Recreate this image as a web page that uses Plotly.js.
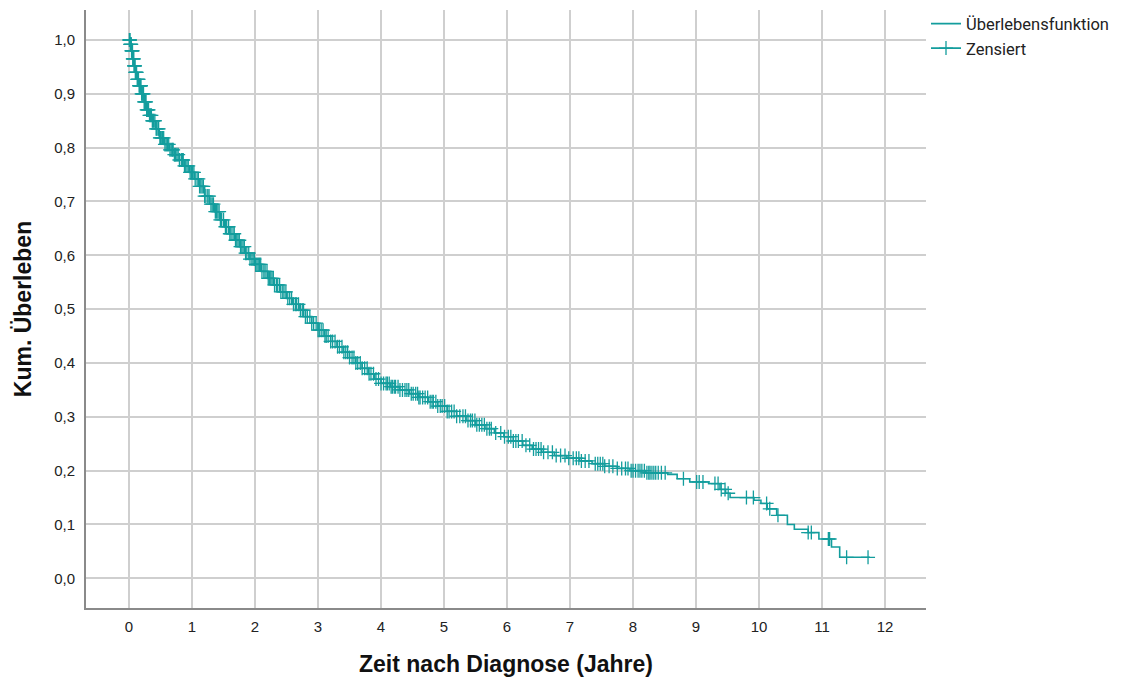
<!DOCTYPE html>
<html><head><meta charset="utf-8">
<script src="https://cdn.plot.ly/plotly-3.0.1.min.js"></script>
<style>html,body{margin:0;padding:0;background:#fff}#chart{width:1137px;height:681px}</style>
</head><body><div id="chart"></div><script>
// Kaplan-Meier step points (time in years, cumulative survival)
const stepTimes = [0,0.02,0.04,0.06,0.08,0.10,0.13,0.16,0.20,0.24,0.28,0.32,0.36,0.42,0.48,0.56,0.64,0.72,0.80,0.88,0.96,1.04,1.12,1.20,1.28,1.36,1.44,1.52,1.60,1.68,1.76,1.84,1.92,2.00,2.10,2.20,2.30,2.40,2.50,2.60,2.70,2.80,2.90,3.00,3.10,3.20,3.30,3.40,3.50,3.60,3.70,3.80,3.90,4.00,4.15,4.30,4.45,4.60,4.75,4.90,5.05,5.20,5.35,5.50,5.65,5.80,5.95,6.10,6.25,6.40,6.55,6.75,6.95,7.15,7.35,7.55,7.75,7.95,8.20,8.55,8.70,8.90,9.20,9.38,9.47,9.54,9.92,10.03,10.13,10.28,10.45,10.56,10.78,10.95,11.15,11.28,11.76];
const stepSurv  = [1.000,0.992,0.980,0.965,0.952,0.940,0.927,0.915,0.900,0.885,0.870,0.860,0.850,0.835,0.818,0.806,0.796,0.787,0.777,0.766,0.754,0.742,0.728,0.710,0.695,0.681,0.666,0.653,0.640,0.628,0.616,0.604,0.593,0.583,0.570,0.557,0.545,0.532,0.520,0.509,0.498,0.486,0.474,0.461,0.450,0.440,0.430,0.420,0.410,0.400,0.390,0.380,0.370,0.362,0.356,0.350,0.343,0.336,0.328,0.320,0.310,0.301,0.293,0.285,0.278,0.270,0.263,0.255,0.247,0.240,0.234,0.228,0.223,0.218,0.213,0.208,0.204,0.200,0.196,0.193,0.185,0.179,0.176,0.165,0.158,0.150,0.145,0.139,0.129,0.117,0.100,0.091,0.085,0.073,0.058,0.039,0.039];
// Censored observations (time in years)
const censorTimes = [0.005,0.01,0.015,0.02,0.025,0.03,0.035,0.04,0.045,0.05,0.055,0.06,0.065,0.07,0.075,0.08,0.085,0.09,0.095,0.10,0.105,0.11,0.115,0.12,0.13,0.14,0.145,0.15,0.16,0.17,0.175,0.18,0.19,0.20,0.21,0.22,0.23,0.24,0.25,0.26,0.27,0.28,0.29,0.30,0.31,0.325,0.34,0.355,0.37,0.38,0.39,0.41,0.43,0.44,0.46,0.47,0.49,0.50,0.52,0.53,0.55,0.57,0.59,0.61,0.63,0.65,0.67,0.69,0.70,0.72,0.74,0.76,0.78,0.80,0.83,0.85,0.86,0.88,0.90,0.92,0.94,0.97,0.99,1.01,1.03,1.05,1.08,1.10,1.12,1.14,1.16,1.18,1.20,1.22,1.25,1.27,1.30,1.32,1.34,1.37,1.39,1.41,1.43,1.45,1.47,1.50,1.53,1.55,1.58,1.60,1.62,1.65,1.67,1.69,1.71,1.73,1.75,1.77,1.79,1.81,1.83,1.85,1.87,1.90,1.92,1.95,1.97,1.99,2.01,2.03,2.05,2.07,2.09,2.11,2.14,2.16,2.19,2.21,2.23,2.25,2.27,2.29,2.31,2.34,2.36,2.39,2.41,2.44,2.46,2.49,2.52,2.55,2.58,2.61,2.64,2.66,2.69,2.72,2.75,2.77,2.80,2.83,2.87,2.90,2.93,2.97,3.00,3.02,3.05,3.08,3.11,3.13,3.16,3.20,3.23,3.27,3.31,3.34,3.38,3.41,3.44,3.47,3.50,3.54,3.57,3.60,3.63,3.67,3.70,3.74,3.78,3.81,3.84,3.88,3.92,3.96,4.00,4.04,4.08,4.10,4.13,4.16,4.18,4.21,4.23,4.27,4.30,4.34,4.38,4.41,4.44,4.48,4.51,4.55,4.58,4.60,4.62,4.66,4.70,4.74,4.78,4.81,4.83,4.87,4.90,4.94,4.97,5.01,5.05,5.08,5.12,5.16,5.20,5.25,5.30,5.34,5.38,5.42,5.45,5.49,5.52,5.56,5.60,5.64,5.68,5.72,5.75,5.82,5.90,5.96,6.02,6.06,6.10,6.14,6.18,6.24,6.30,6.36,6.42,6.46,6.50,6.54,6.58,6.65,6.72,6.78,6.85,6.92,6.98,7.05,7.10,7.14,7.18,7.24,7.30,7.40,7.44,7.48,7.52,7.55,7.62,7.68,7.75,7.82,7.88,7.92,7.97,8.00,8.04,8.08,8.11,8.14,8.18,8.22,8.25,8.27,8.30,8.33,8.36,8.40,8.45,8.51,8.80,9.01,9.05,9.11,9.30,9.35,9.40,9.46,9.51,9.80,9.91,10.12,10.17,10.30,10.78,10.83,11.10,11.12,11.39,11.73];
const xTickVals = [0,1,2,3,4,5,6,7,8,9,10,11,12];
const yTickVals = [0,0.1,0.2,0.3,0.4,0.5,0.6,0.7,0.8,0.9,1.0];
const seriesNames = ['Überlebensfunktion','Zensiert'];
const xTitle = 'Zeit nach Diagnose (Jahre)';
const yTitle = 'Kum. Überleben';

const teal = '#139d9d';
function survAt(t){
  let s = stepSurv[0];
  for (let i = 0; i < stepTimes.length; i++){ if (stepTimes[i] <= t) s = stepSurv[i]; }
  return s;
}
const cx = [], cy = [];
censorTimes.forEach(t => { cx.push(t, null); cy.push(survAt(t), null); });

const traces = [
  {x: stepTimes, y: stepSurv, type: 'scatter', mode: 'lines', name: seriesNames[0],
   line: {color: teal, width: 1.6, shape: 'hv'}, hoverinfo: 'skip'},
  {x: cx, y: cy, type: 'scatter', mode: 'lines+markers', name: seriesNames[1], connectgaps: false,
   line: {color: teal, width: 1.6},
   marker: {symbol: 'cross-thin-open', size: 10, color: teal, line: {color: teal, width: 1.3}}, hoverinfo: 'skip'}
];
const axisFont = {family: 'Liberation Sans, Arial, sans-serif', size: 15, color: '#222'};
const titleFont = {family: 'Liberation Sans, Arial, sans-serif', size: 23, color: '#111', weight: 'bold'};
const layout = {
  width: 1137, height: 681,
  margin: {l: 86, r: 211, t: 10, b: 73, pad: 0, autoexpand: false},
  paper_bgcolor: '#fff', plot_bgcolor: '#fff',
  separators: ',.',
  showlegend: true,
  legend: {x: 1.0, xanchor: 'left', y: 1.006, yanchor: 'top', font: {family: 'Roboto, sans-serif', size: 16.5, color: '#222'},
           bgcolor: 'rgba(0,0,0,0)', itemwidth: 30},
  xaxis: {range: [-0.683, 12.65], tickvals: xTickVals, ticks: '', showgrid: true, gridcolor: '#cfcfcf', gridwidth: 2,
          zeroline: false, showline: true, linecolor: '#8a8a8a', linewidth: 2, tickfont: axisFont, ticklabelstandoff: 4,
          title: {text: xTitle, font: titleFont, standoff: 22}},
  yaxis: {range: [-0.0552, 1.0557], tickvals: yTickVals, tickformat: '.1f', ticks: '', showgrid: true, gridcolor: '#cfcfcf', gridwidth: 2,
          zeroline: false, showline: true, linecolor: '#8a8a8a', linewidth: 2, tickfont: axisFont, ticklabelstandoff: 6,
          title: {text: yTitle, font: titleFont, standoff: 16}}
};
Plotly.newPlot('chart', traces, layout, {displayModeBar: false, staticPlot: true});
</script></body></html>
